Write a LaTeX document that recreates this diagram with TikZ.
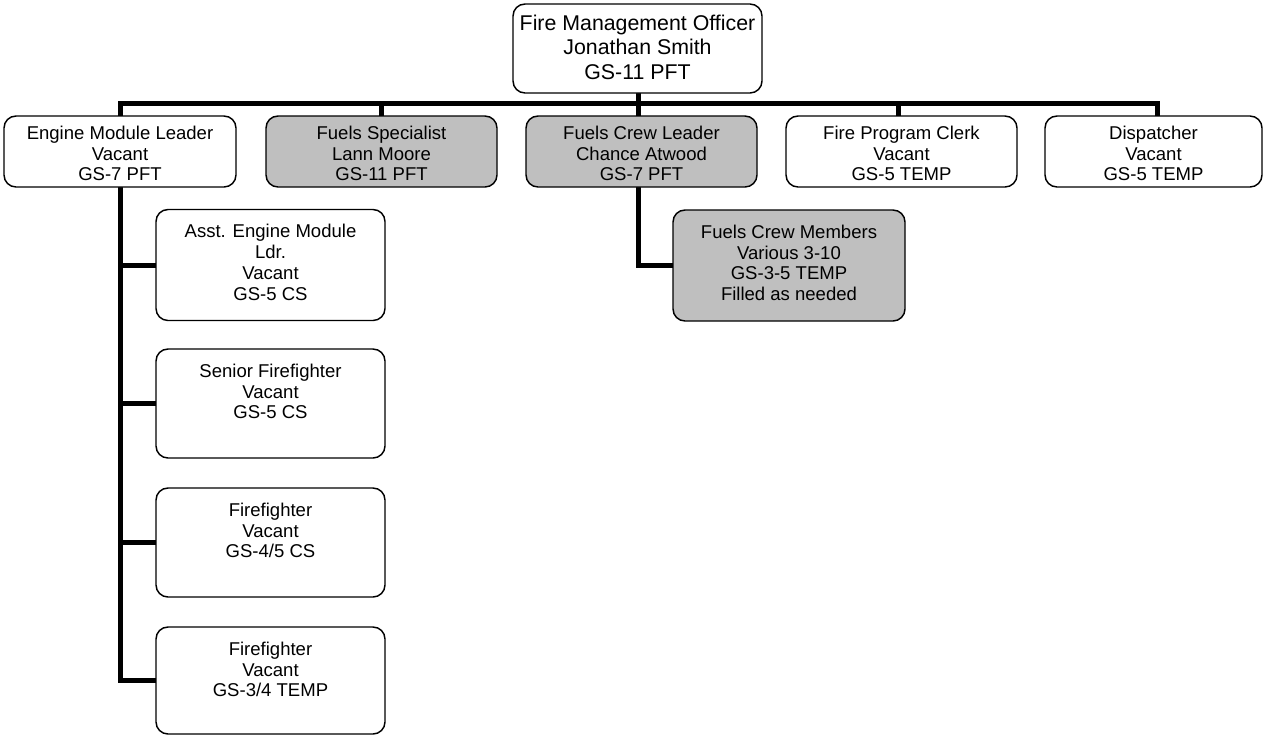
\documentclass[tikz,border=0pt]{standalone}
\usepackage{fontspec}
\setmainfont{Liberation Sans}
\begin{document}
\begin{tikzpicture}[x=0.75pt,y=-0.75pt,
  box/.style={draw=black,line width=1.1pt,rounded corners=9pt,fill=white,inner sep=0pt},
  graybox/.style={box,fill=gray!50},
  txt/.style={anchor=north,align=center,inner sep=0pt,font=\fontsize{13.9pt}{15.6pt}\selectfont},
  conn/.style={line width=3.75pt}]
\useasboundingbox (0,0) rectangle (1265,736);
% connector coordinates
\coordinate (barL) at (120,103.5);
\coordinate (barR) at (1157,103.5);
\coordinate (bfs) at (381,103.5);
\coordinate (bmid) at (638,103.5);
\coordinate (bfpc) at (898,103.5);
% connectors (drawn first, boxes cover their ends)
\draw[conn] (638,85) coordinate (fmoc) -- (bmid) -- (638,140) coordinate (fclc);
\draw[conn] (120,140) coordinate (emlc) -- (barL) -- (barR) -- (1157,140) coordinate (dispc);
\draw[conn] (bfs) -- (381,140) coordinate (fsc);
\draw[conn] (bfpc) -- (898,140) coordinate (fpcc);
\coordinate (ebr) at (120,265);
\coordinate (ebs) at (120,403.5);
\coordinate (eb1) at (120,542.5);
\coordinate (eb2) at (120,680.5);
\draw[conn] (emlc) -- (eb2) -- (170,680.5) coordinate (ff2c);
\draw[conn] (ebr) -- (170,265) coordinate (asstc);
\draw[conn] (ebs) -- (170,403.5) coordinate (sffc);
\draw[conn] (eb1) -- (170,542.5) coordinate (ff1c);
\coordinate (fcb) at (638,265.5);
\draw[conn] (fclc) -- (fcb) -- (690,265.5) coordinate (fcmc);
% boxes
\node[box,minimum width=249*0.75pt,minimum height=89*0.75pt] (fmo) at (637.5,48.5) {};
\node[box,minimum width=232*0.75pt,minimum height=71*0.75pt] (eml) at (120,151.5) {};
\node[graybox,minimum width=231*0.75pt,minimum height=71*0.75pt] (fs) at (381.5,151.5) {};
\node[graybox,minimum width=231*0.75pt,minimum height=71*0.75pt] (fcl) at (641.5,151.5) {};
\node[box,minimum width=231*0.75pt,minimum height=71*0.75pt] (fpc) at (901.5,151.5) {};
\node[box,minimum width=217*0.75pt,minimum height=71*0.75pt] (disp) at (1153.5,151.5) {};
\node[box,minimum width=229*0.75pt,minimum height=111*0.75pt] (asst) at (270.5,265) {};
\node[box,minimum width=229*0.75pt,minimum height=109*0.75pt] (sff) at (270.5,403.5) {};
\node[box,minimum width=229*0.75pt,minimum height=109*0.75pt] (ff1) at (270.5,542.5) {};
\node[box,minimum width=229*0.75pt,minimum height=107*0.75pt] (ff2) at (270.5,680.5) {};
\node[graybox,minimum width=232*0.75pt,minimum height=111*0.75pt] (fcm) at (789,265.5) {};
% texts
\node[txt,font=\fontsize{16pt}{18.4pt}\selectfont] (tfmo) at ([yshift=-8.3pt]fmo.north) {Fire Management Officer\\Jonathan Smith\\GS-11 PFT};
\node[txt] (teml) at ([yshift=-7.8pt]eml.north) {Engine Module Leader\\Vacant\\GS-7 PFT};
\node[txt] (tfs) at ([yshift=-7.8pt]fs.north) {Fuels Specialist\\Lann Moore\\GS-11 PFT};
\node[txt] (tfcl) at ([yshift=-7.8pt]fcl.north) {Fuels Crew Leader\\Chance Atwood\\GS-7 PFT};
\node[txt] (tfpc) at ([yshift=-7.8pt]fpc.north) {Fire Program Clerk\\Vacant\\GS-5 TEMP};
\node[txt] (tdisp) at ([yshift=-7.8pt]disp.north) {Dispatcher\\Vacant\\GS-5 TEMP};
\node[txt] (tasst) at ([yshift=-11.5pt]asst.north) {Asst. Engine Module\\Ldr.\\Vacant\\GS-5 CS};
\node[txt] (tsff) at ([yshift=-11.5pt]sff.north) {Senior Firefighter\\Vacant\\GS-5 CS};
\node[txt] (tff1) at ([yshift=-11.5pt]ff1.north) {Firefighter\\Vacant\\GS-4/5 CS};
\node[txt] (tff2) at ([yshift=-11.5pt]ff2.north) {Firefighter\\Vacant\\GS-3/4 TEMP};
\node[txt] (tfcm) at ([yshift=-11.5pt]fcm.north) {Fuels Crew Members\\Various 3-10\\GS-3-5 TEMP\\Filled as needed};
\end{tikzpicture}
\end{document}
